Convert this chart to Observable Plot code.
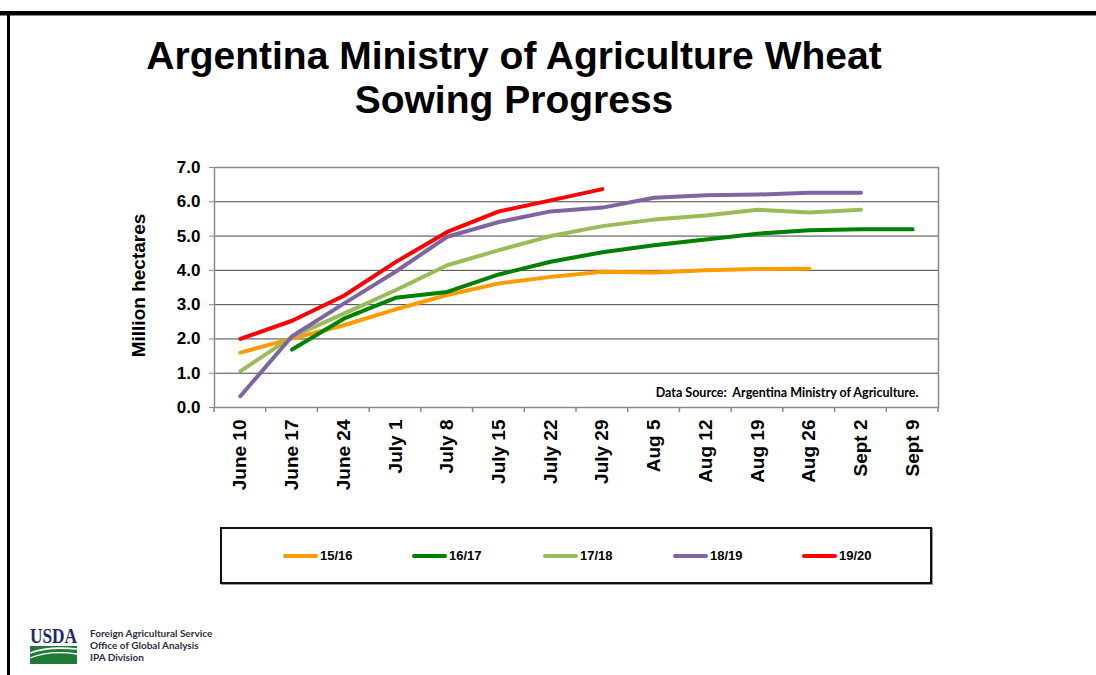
<!DOCTYPE html>
<html>
<head>
<meta charset="utf-8">
<script src="https://cdn.jsdelivr.net/npm/d3@7"></script>
<script src="https://cdn.jsdelivr.net/npm/@observablehq/plot@0.6"></script>
<style>
  html, body { margin: 0; padding: 0; background: #fff; }
  #page { position: relative; width: 1096px; height: 675px; overflow: hidden; background: #fff; font-family: "Liberation Sans", Arial, sans-serif; }
  #topbar { position: absolute; left: 0; top: 11px; width: 1096px; height: 4px; background: #000; border-bottom: 1px solid #888; }
  #leftbar { position: absolute; left: 7px; top: 11px; width: 3px; height: 670px; background: #000; }
  #title { position: absolute; left: 0; top: 34px; width: 1028px; text-align: center; font-size: 39px; line-height: 44px; font-weight: bold; color: #000; }
  #chart { position: absolute; left: 0; top: 150px; }
  #legend { position: absolute; left: 220px; top: 527px; width: 708px; height: 53px; border: 2px solid #111; box-shadow: 1px 1px 0 #999; background: #fff; }
  .item { position: absolute; top: 0; height: 53px; display: flex; align-items: center; font-family: "Liberation Sans Narrow", "Liberation Sans", Arial, sans-serif; font-weight: bold; font-size: 13px; color: #000; }
  .swatch { display: inline-block; width: 35px; height: 4px; border-radius: 2px; margin-right: 2px; }
  #logo { position: absolute; left: 26px; top: 622px; overflow: visible; }
  #fas { position: absolute; left: 90px; top: 627px; font-family: Lato, "Open Sans", sans-serif; font-weight: bold; font-size: 10px; line-height: 12px; color: #2a2f45; }
</style>
</head>
<body>
<div id="page">
  <div id="topbar"></div>
  <div id="leftbar"></div>
  <div id="title">Argentina Ministry of Agriculture Wheat<br>Sowing Progress</div>
  <div id="chart"></div>
  <div id="legend"></div>
  <svg id="logo" width="58" height="48" viewBox="0 0 58 48">
    <text x="4" y="21" font-family="'Liberation Serif', serif" font-size="21" font-weight="bold" fill="#1b2a6b" textLength="47" lengthAdjust="spacingAndGlyphs">USDA</text>
    <path d="M4 24 H51 V42 H4 Z" fill="#1e7a34"/>
    <path d="M4 31 Q22 24 51 27" stroke="#fff" stroke-width="1.6" fill="none"/>
    <path d="M4 36 Q24 28 51 32" stroke="#fff" stroke-width="1.3" fill="none"/>
  </svg>
  <div id="fas">Foreign Agricultural Service<br>Office of Global Analysis<br>IPA Division</div>
</div>
<script>
// ---- data ----
const weeks = ["June 10","June 17","June 24","July 1","July 8","July 15","July 22","July 29","Aug 5","Aug 12","Aug 19","Aug 26","Sept 2","Sept 9"];
const seasons = ["15/16","16/17","17/18","18/19","19/20"];
const colors = ["#FF9A00","#008000","#9BBB59","#8064A2","#FF0000"];
const s1516 = [1.60, 2.01, 2.40, 2.86, 3.28, 3.62, 3.81, 3.96, 3.94, 4.00, 4.04, 4.05, null, null];
const s1617 = [null, 1.69, 2.59, 3.20, 3.37, 3.88, 4.25, 4.53, 4.73, 4.90, 5.07, 5.17, 5.20, 5.20];
const s1718 = [1.06, 2.06, 2.74, 3.42, 4.15, 4.59, 5.00, 5.29, 5.48, 5.60, 5.77, 5.69, 5.77, null];
const s1819 = [0.33, 2.08, 3.03, 3.96, 4.98, 5.41, 5.72, 5.83, 6.12, 6.19, 6.21, 6.26, 6.26, null];
const s1920 = [2.00, 2.53, 3.26, 4.24, 5.12, 5.72, 6.04, 6.37, null, null, null, null, null, null];
const yTicks = [0, 1, 2, 3, 4, 5, 6, 7];
const yLabel = "Million hectares";
const dataSource = "Data Source:  Argentina Ministry of Agriculture.";

const seriesValues = [s1516, s1617, s1718, s1819, s1920];
const rows = [];
seasons.forEach((s, i) => {
  seriesValues[i].forEach((v, j) => { if (v != null) rows.push({season: s, week: weeks[j], value: v}); });
});

function boundaryTicks(index, scales, values, dimensions) {
  const {width, height, marginLeft, marginRight, marginBottom} = dimensions;
  const step = (width - marginLeft - marginRight) / weeks.length;
  const y0 = height - marginBottom;
  const g = d3.create("svg:g").attr("stroke", "#888").attr("stroke-width", 1.5);
  const xs = weeks.map(w => scales.x(w) - step / 2);
  xs.push(scales.x(weeks[weeks.length - 1]) + step / 2);
  xs.forEach(px => g.append("line").attr("x1", px).attr("x2", px).attr("y1", y0).attr("y2", y0 + 5));
  return g.node();
}

const chart = Plot.plot({
  width: 1096,
  height: 360,
  marginTop: 17,
  marginBottom: 103,
  marginLeft: 214,
  marginRight: 158,
  style: {fontFamily: "'Liberation Sans', Arial, sans-serif", fontWeight: "bold", color: "#000", background: "transparent", overflow: "visible"},
  x: {type: "point", domain: weeks, padding: 0.5, round: false, label: null},
  y: {domain: [0, 7], label: null},
  color: {domain: seasons, range: colors},
  marks: [
    Plot.gridY(yTicks.slice(1), {stroke: "#444", strokeOpacity: 1, strokeWidth: 1}),
    Plot.frame({stroke: "#8a8a8a", strokeWidth: 1.5}),
    Plot.axisY(yTicks, {tickFormat: d => d.toFixed(1), tickSize: 5, tickPadding: 9, fontSize: 17, stroke: "#888", fill: "#000", label: null}),
    Plot.axisX({tickSize: 0, tickRotate: -90, tickPadding: 12, fontSize: 19, fill: "#000", label: null}),
    boundaryTicks,
    Plot.line(rows, {x: "week", y: "value", z: "season", stroke: "season", strokeWidth: 4, strokeLinecap: "round", strokeLinejoin: "round"}),
    Plot.text([yLabel], {frameAnchor: "left", dx: -76, dy: -2, rotate: -90, fontSize: 19, textAnchor: "middle", lineAnchor: "middle"}),
    Plot.text([dataSource], {frameAnchor: "bottom-right", dx: -20, dy: -15, lineAnchor: "middle", fontFamily: "Lato, 'Open Sans', sans-serif", fontSize: 12.5, fontWeight: "bold"})
  ]
});
document.getElementById("chart").appendChild(chart);

// legend
const legendLefts = [61, 190, 321, 451, 580];
const legend = document.getElementById("legend");
seasons.forEach((s, i) => {
  const it = document.createElement("div");
  it.className = "item";
  it.style.left = legendLefts[i] + "px";
  it.innerHTML = `<span class="swatch" style="background:${colors[i]}"></span>${s}`;
  legend.appendChild(it);
});
</script>
</body>
</html>
